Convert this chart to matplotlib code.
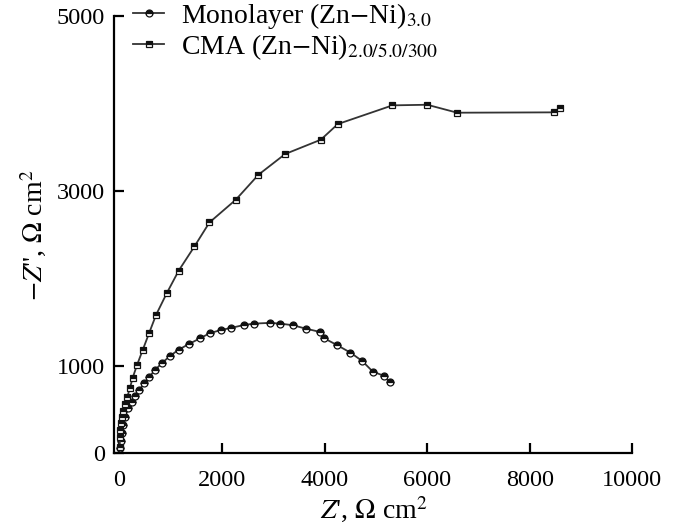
import numpy as np
import matplotlib
matplotlib.use('Agg')
import matplotlib.pyplot as plt

plt.rcParams['font.family'] = ['Liberation Serif', 'DejaVu Serif']
plt.rcParams['mathtext.fontset'] = 'stix'

# Monolayer (Zn-Ni)3.0
mono_x = [15, 25, 45, 70, 107, 172, 238, 302, 386, 484, 582, 693, 823, 985, 1155, 1356,
          1571, 1760, 1980, 2170, 2435, 2630, 2937, 3132, 3380, 3633, 3912, 3990, 4238,
          4504, 4732, 4940, 5167, 5265]
mono_y = [60, 140, 230, 324, 419, 515, 591, 656, 725, 802, 877, 954, 1031, 1115, 1187, 1252,
          1317, 1375, 1412, 1435, 1470, 1485, 1493, 1485, 1466, 1427, 1389, 1317, 1240,
          1152, 1057, 935, 885, 813]

# CMA (Zn-Ni)2.0/5.0/300
cma_x = [5, 5, 10, 23, 49, 75, 107, 153, 205, 257, 341, 452, 576, 712, 921, 1155, 1460,
         1753, 2267, 2709, 3229, 3925, 4257, 5323, 6000, 6585, 8478, 8582]
cma_y = [76, 190, 267, 343, 419, 488, 565, 649, 752, 866, 1011, 1183, 1375, 1584, 1833,
         2092, 2367, 2642, 2902, 3188, 3425, 3589, 3768, 3982, 3989, 3898, 3902, 3952]

x_ticks = [0, 2000, 4000, 6000, 8000, 10000]
x_labels = ['0', '2000', '4000', '6000', '8000', '10000']
y_ticks = [0, 1000, 3000, 5000]

fig = plt.figure(figsize=(6.77, 5.29), dpi=100)
ax = fig.add_axes([0.169, 0.143, 0.765, 0.826])

style = dict(color='#333333', lw=1.3, ms=5, mec='#111111', mew=0.9,
             fillstyle='top', mfc='#111111', mfcalt='white')
ax.plot(mono_x, mono_y, marker='o', label='Monolayer (Zn$-$Ni)$_{3.0}$', **style)
ax.plot(cma_x, cma_y, marker='s', label='CMA (Zn$-$Ni)$_{2.0/5.0/300}$', **style)

ax.set_xlim(-100, 10000)
ax.set_ylim(0, 5000)
ax.set_xticks(x_ticks)
ax.set_xticklabels(x_labels)
ax.set_yticks(y_ticks)
ax.tick_params(direction='in', length=7, width=1.6, labelsize=17.5, pad=7)
ax.tick_params(axis='x', pad=12)
for s in ['top', 'right']:
    ax.spines[s].set_visible(False)
for s in ['left', 'bottom']:
    ax.spines[s].set_linewidth(1.6)

ax.set_xlabel("$Z$', $\\Omega$ cm$^2$", fontsize=20, labelpad=3)
ax.set_ylabel("$-Z$'', $\\Omega$ cm$^2$", fontsize=20, labelpad=5)

ax.legend(loc='upper left', bbox_to_anchor=(0.035, 1.036), frameon=False, fontsize=20,
          handlelength=1.15, handletextpad=0.6, labelspacing=0.05, borderaxespad=0,
          borderpad=0)

fig.savefig('out.png', dpi=100)
